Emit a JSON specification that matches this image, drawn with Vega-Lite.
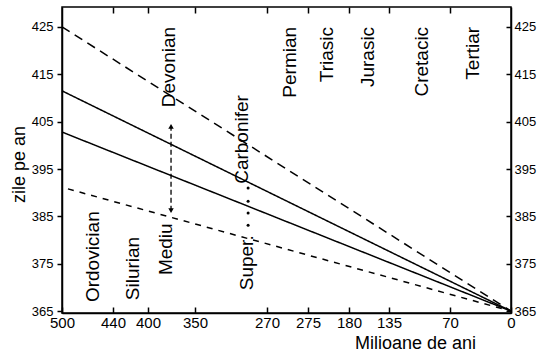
{
  "$schema": "https://vega.github.io/schema/vega-lite/v6.json",
  "width": 449,
  "height": 306,
  "autosize": {"type": "none"},
  "padding": {"left": 62, "top": 7, "right": 34, "bottom": 47},
  "background": "white",
  "config": {
    "view": {"stroke": "black", "strokeWidth": 1.5},
    "font": "Liberation Sans",
    "axis": {
      "grid": false,
      "domainColor": "black",
      "tickColor": "black",
      "labelColor": "black",
      "titleColor": "black",
      "domainWidth": 1.5,
      "tickWidth": 1.5,
      "labelFont": "Liberation Sans",
      "titleFont": "Liberation Sans",
      "titleFontWeight": "normal",
      "labelOverlap": false,
      "labelFlush": false
    }
  },
  "datasets": {
    "lines": [
      {"series": "d1", "ma": 500, "v": 425},
      {"series": "d1", "ma": 0, "v": 365},
      {"series": "s1", "ma": 500, "v": 411.5},
      {"series": "s1", "ma": 0, "v": 365},
      {"series": "s2", "ma": 500, "v": 402.8},
      {"series": "s2", "ma": 0, "v": 365},
      {"series": "d2", "ma": 493, "v": 390.8},
      {"series": "d2", "ma": 0, "v": 365}
    ],
    "arrow": [{"ma": 375.5, "v1": 386.2, "v2": 404.0}],
    "heads": [
      {"ma": 375.5, "v": 404.0, "dir": "up"},
      {"ma": 375.5, "v": 386.2, "dir": "down"}
    ],
    "dots": [
      {"ma": 291, "v": 391.0},
      {"ma": 291, "v": 388.2},
      {"ma": 291, "v": 385.7},
      {"ma": 291, "v": 383.1}
    ],
    "labels": [
      {"label": "Devonian", "ma": 377.7, "v": 425, "pos": "top"},
      {"label": "Carbonifer", "ma": 297.8, "v": 410.6, "pos": "top"},
      {"label": "Permian", "ma": 244.8, "v": 425, "pos": "top"},
      {"label": "Triasic", "ma": 204.1, "v": 425, "pos": "top"},
      {"label": "Jurasic", "ma": 158.6, "v": 425, "pos": "top"},
      {"label": "Cretacic", "ma": 99.8, "v": 425, "pos": "top"},
      {"label": "Tertiar", "ma": 43.6, "v": 425, "pos": "top"},
      {"label": "Ordovician", "ma": 463.5, "v": 366.9, "pos": "bottom"},
      {"label": "Silurian", "ma": 417.1, "v": 367.3, "pos": "bottom"},
      {"label": "Mediu", "ma": 380.5, "v": 372.6, "pos": "bottom"},
      {"label": "Super.", "ma": 292.2, "v": 369.4, "pos": "bottom"}
    ]
  },
  "layer": [
    {
      "data": {"name": "lines"},
      "mark": {"type": "line", "color": "black", "strokeWidth": 1.5},
      "encoding": {
        "x": {
          "field": "ma", "type": "quantitative",
          "scale": {"domain": [500, 440, 400, 350, 270, 225, 180, 135, 70, 0], "range": [0, 51, 86, 133, 205, 246, 287, 327, 388, 449], "nice": false, "zero": false},
          "axis": {
            "orient": "bottom",
            "values": [500, 440, 400, 350, 270, 225, 180, 135, 70, 0],
            "labelExpr": "datum.value == 225 ? '275' : datum.label",
            "ticks": false,
            "labelPadding": 2,
            "labelFontSize": 15,
            "title": "Milioane de ani",
            "titleFontSize": 18,
            "titleX": 353,
            "titleY": 30,
            "titleAlign": "center",
            "titleBaseline": "middle"
          }
        },
        "y": {
          "field": "v", "type": "quantitative",
          "scale": {"domain": [364.6, 429.2], "nice": false, "zero": false},
          "axis": {
            "orient": "left",
            "values": [365, 375, 385, 395, 405, 415, 425],
            "tickSize": 5,
            "labelPadding": 4,
            "labelFontSize": 13,
            "title": "zile pe an",
            "titleFontSize": 18,
            "titleX": -43,
            "titleY": 157,
            "titleAngle": 270,
            "titleAlign": "center",
            "titleBaseline": "middle"
          }
        },
        "detail": {"field": "series"},
        "strokeDash": {
          "field": "series", "type": "nominal",
          "scale": {"domain": ["d1", "s1", "s2", "d2"], "range": [[9, 6], [1, 0], [1, 0], [6, 6]]},
          "legend": null
        }
      }
    },
    {
      "data": {"name": "arrow"},
      "mark": {"type": "rule", "color": "black", "strokeWidth": 1.3, "strokeDash": [5, 3]},
      "encoding": {
        "x": {
          "field": "ma", "type": "quantitative",
          "scale": {"domain": [500, 440, 400, 350, 270, 225, 180, 135, 70, 0], "range": [0, 51, 86, 133, 205, 246, 287, 327, 388, 449], "nice": false, "zero": false},
          "axis": {"orient": "bottom", "values": [500, 440, 400, 350, 270, 225, 180, 135, 70, 0], "labels": false, "domain": false, "tickSize": -6, "title": null}
        },
        "y": {
          "field": "v1", "type": "quantitative",
          "scale": {"domain": [364.6, 429.2], "nice": false, "zero": false},
          "axis": {"orient": "right", "values": [365, 375, 385, 395, 405, 415, 425], "ticks": false, "labelPadding": 3, "labelFontSize": 13, "title": null}
        },
        "y2": {"field": "v2"}
      }
    },
    {
      "data": {"name": "heads"},
      "mark": {"type": "point", "filled": true, "color": "black", "size": 30, "opacity": 1},
      "encoding": {
        "x": {
          "field": "ma", "type": "quantitative",
          "scale": {"domain": [500, 440, 400, 350, 270, 225, 180, 135, 70, 0], "range": [0, 51, 86, 133, 205, 246, 287, 327, 388, 449], "nice": false, "zero": false},
          "axis": {"orient": "top", "values": [440, 400, 350, 270, 225, 180, 135, 70], "labels": false, "domain": false, "tickSize": -6, "title": null}
        },
        "y": {
          "field": "v", "type": "quantitative",
          "scale": {"domain": [364.6, 429.2], "nice": false, "zero": false},
          "axis": {"orient": "right", "values": [365, 375, 385, 395, 405, 415, 425], "labels": false, "domain": false, "tickSize": -5, "title": null}
        },
        "shape": {
          "field": "dir", "type": "nominal",
          "scale": {"domain": ["up", "down"], "range": ["triangle-up", "triangle-down"]},
          "legend": null
        }
      }
    },
    {
      "data": {"name": "dots"},
      "mark": {"type": "point", "filled": true, "color": "black", "size": 9, "opacity": 1, "shape": "circle"},
      "encoding": {
        "x": {"field": "ma", "type": "quantitative", "axis": null},
        "y": {"field": "v", "type": "quantitative", "axis": null}
      }
    },
    {
      "data": {"name": "labels"},
      "transform": [{"filter": "datum.pos == 'top'"}],
      "mark": {"type": "text", "angle": 270, "align": "right", "baseline": "middle", "fontSize": 19, "color": "black", "font": "Liberation Sans"},
      "encoding": {
        "x": {"field": "ma", "type": "quantitative", "axis": null},
        "y": {"field": "v", "type": "quantitative", "axis": null},
        "text": {"field": "label"}
      }
    },
    {
      "data": {"name": "labels"},
      "transform": [{"filter": "datum.pos == 'bottom'"}],
      "mark": {"type": "text", "angle": 270, "align": "left", "baseline": "middle", "fontSize": 19, "color": "black", "font": "Liberation Sans"},
      "encoding": {
        "x": {"field": "ma", "type": "quantitative", "axis": null},
        "y": {"field": "v", "type": "quantitative", "axis": null},
        "text": {"field": "label"}
      }
    }
  ],
  "resolve": {"axis": {"x": "independent", "y": "independent"}}
}
